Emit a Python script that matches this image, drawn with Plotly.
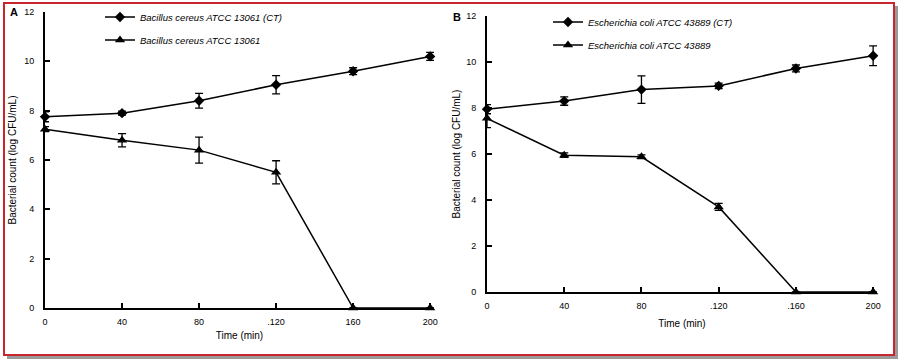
import plotly.graph_objects as go

time_min = [0, 40, 80, 120, 160, 200]

# Panel A: Bacillus cereus ATCC 13061
bc_ct = [7.75, 7.9, 8.4, 9.05, 9.6, 10.2]
bc_ct_err = [0.2, 0.08, 0.3, 0.37, 0.14, 0.16]
bc_tr = [7.25, 6.8, 6.4, 5.5, 0, 0]
bc_tr_err = [0.1, 0.27, 0.53, 0.47, 0, 0]

# Panel B: Escherichia coli ATCC 43889
ec_ct = [7.95, 8.3, 8.8, 8.96, 9.72, 10.27]
ec_ct_err = [0.2, 0.18, 0.6, 0.12, 0.15, 0.43]
ec_tr = [7.55, 5.95, 5.88, 3.7, 0, 0]
ec_tr_err = [0.4, 0.1, 0.08, 0.15, 0, 0]

ticks_y = [0, 2, 4, 6, 8, 10, 12]
a_xticktext = ["0", "40", "80", ".120", "160", "200"]
b_xticktext = ["0", "40", "80", ".120", ".160", "200"]

names = ["Bacillus cereus ATCC 13061 (CT)", "Bacillus cereus ATCC 13061",
         "Escherichia coli ATCC 43889 (CT)", "Escherichia coli ATCC 43889"]

W, H = 900, 362
FONT = "Liberation Sans, Arial, sans-serif"

fig = go.Figure()

def add(y, err, name, sym, size, xa, ya, leg):
    fig.add_trace(go.Scatter(
        x=time_min, y=y, name=name, mode="lines+markers", showlegend=True,
        line=dict(color="black", width=1.5),
        marker=dict(symbol=sym, size=size, color="black"),
        error_y=dict(type="data", array=err, visible=True, color="black",
                     thickness=1.3, width=4),
        xaxis=xa, yaxis=ya, legend=leg, cliponaxis=False))

add(bc_ct, bc_ct_err, names[0], "diamond", 8, "x", "y", "legend")
add(bc_tr, bc_tr_err, names[1], "triangle-up", 9, "x", "y", "legend2")
add(ec_ct, ec_ct_err, names[2], "diamond", 8, "x2", "y2", "legend3")
add(ec_tr, ec_tr_err, names[3], "triangle-up", 9, "x2", "y2", "legend4")

def px_x(p):
    return p / W

def px_y(p):
    return 1 - p / H

axis_common = dict(showline=True, linecolor="black", linewidth=2, ticks="inside",
                   ticklen=5, tickwidth=2, tickcolor="black", showgrid=False,
                   zeroline=False, tickfont=dict(size=9, color="black", family=FONT),
                   title_font=dict(size=10, color="black", family=FONT))

fig.update_layout(
    width=W, height=H, margin=dict(l=0, r=0, t=0, b=0, autoexpand=False),
    paper_bgcolor="white", plot_bgcolor="rgba(0,0,0,0)", showlegend=True,
    font=dict(family=FONT, color="black"),
    xaxis=dict(domain=[px_x(45), px_x(434)], range=[0, 202], tickvals=time_min,
               ticktext=a_xticktext, anchor="y", ticklabelstandoff=4,
               title=dict(text="Time (min)", standoff=6), **axis_common),
    yaxis=dict(domain=[px_y(308), px_y(12)], range=[0, 12], tickvals=ticks_y,
               anchor="x", ticklabelstandoff=7,
               title=dict(text="Bacterial count (log CFU/mL)", standoff=6), **axis_common),
    xaxis2=dict(domain=[px_x(487), px_x(877)], range=[0, 202], tickvals=time_min,
                ticktext=b_xticktext, anchor="y2", ticklabelstandoff=4,
                title=dict(text="Time (min)", standoff=10), **axis_common),
    yaxis2=dict(domain=[px_y(292), px_y(16)], range=[0, 12], tickvals=ticks_y,
                anchor="x2", ticklabelstandoff=7,
                title=dict(text="Bacterial count (log CFU/mL)", standoff=4), **axis_common),
)

legend_common = dict(bgcolor="rgba(0,0,0,0)", borderwidth=0, xanchor="left", yanchor="middle",
                     font=dict(size=9.5, color="black", family=FONT, style="italic"),
                     itemwidth=30, visible=True)
fig.update_layout(
    legend=dict(x=px_x(100), y=px_y(17), **legend_common),
    legend2=dict(x=px_x(100), y=px_y(40), **legend_common),
    legend3=dict(x=px_x(548), y=px_y(22), **legend_common),
    legend4=dict(x=px_x(548), y=px_y(45), **legend_common),
)

# panel letters
fig.add_annotation(x=px_x(8), y=px_y(12), xref="paper", yref="paper", text="<b>A</b>",
                   showarrow=False, xanchor="left", yanchor="middle",
                   font=dict(size=11, color="black", family=FONT))
fig.add_annotation(x=px_x(451), y=px_y(17), xref="paper", yref="paper", text="<b>B</b>",
                   showarrow=False, xanchor="left", yanchor="middle",
                   font=dict(size=11, color="black", family=FONT))

# frame with shadow
fig.add_shape(type="rect", xref="paper", yref="paper",
              x0=px_x(7), x1=px_x(898), y0=px_y(359), y1=px_y(6),
              line=dict(width=0), fillcolor="#9a9a9a", layer="below")
fig.add_shape(type="rect", xref="paper", yref="paper",
              x0=px_x(3), x1=px_x(895), y0=px_y(356), y1=px_y(2),
              line=dict(width=0), fillcolor="#c8262c", layer="below")
fig.add_shape(type="rect", xref="paper", yref="paper",
              x0=px_x(5), x1=px_x(893), y0=px_y(354), y1=px_y(4),
              line=dict(width=0), fillcolor="white", layer="below")

fig.write_html("out.html", config={"displayModeBar": False},
               post_script="document.body.style.margin='0';document.body.style.overflow='hidden';")
